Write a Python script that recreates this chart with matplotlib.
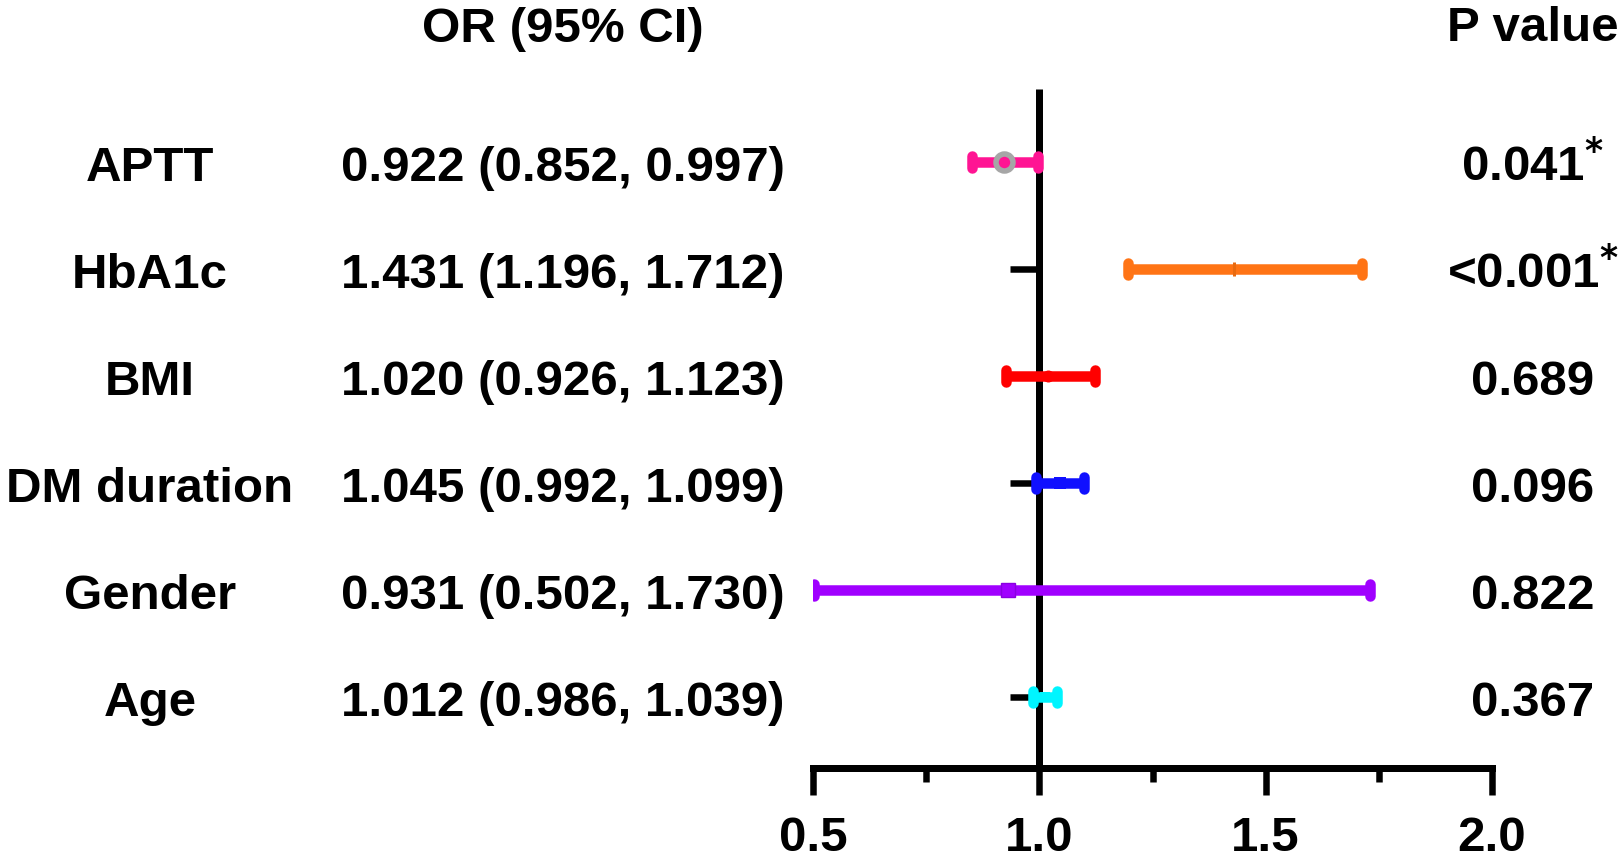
import matplotlib
matplotlib.use("Agg")
import matplotlib.pyplot as plt
from matplotlib.transforms import blended_transform_factory, offset_copy

labels = ['APTT', 'HbA1c', 'BMI', 'DM duration', 'Gender', 'Age']
or_vals = [0.922, 1.431, 1.020, 1.045, 0.931, 1.012]
ci_low = [0.852, 1.196, 0.926, 0.992, 0.502, 0.986]
ci_high = [0.997, 1.712, 1.123, 1.099, 1.730, 1.039]
p_values = ['0.041', '<0.001', '0.689', '0.096', '0.822', '0.367']
significant = [True, True, False, False, False, False]
colors = ['#FF1493', '#FF7415', '#FF0000', '#1010FF', '#A000FF', '#00F5FF']
xticks = [0.5, 1.0, 1.5, 2.0]
xtick_labels = ['0.5', '1.0', '1.5', '2.0']
minor_ticks = [0.75, 1.25, 1.75]

W, H = 1624, 859
DPI = 100
PX = 72.0 / DPI  # points per pixel

plt.rcParams['font.family'] = ['Liberation Sans', 'DejaVu Sans']
plt.rcParams['font.weight'] = 'bold'
FS = 35.5

fig = plt.figure(figsize=(W / DPI, H / DPI), dpi=DPI)
ax = fig.add_axes([813 / W, 1 - 767.7 / H, (1492 - 813) / W, (767.7 - 89) / H])

n = len(labels)
ypos = [n - i for i in range(n)]  # APTT at top

lw_bar = 10.5 * PX
cap_half = 0.056
for i in range(n):
    y = ypos[i]
    c = colors[i]
    ax.plot([ci_low[i], ci_high[i]], [y, y], color=c, lw=lw_bar, solid_capstyle='butt', zorder=3)
    for xv in (ci_low[i], ci_high[i]):
        ax.plot([xv, xv], [y - cap_half, y + cap_half], color=c, lw=lw_bar,
                solid_capstyle='round', zorder=3)

# markers
ax.plot(or_vals[0], ypos[0], 'o', ms=17 * PX, mfc=colors[0], mec='#A6A6A6', mew=5.5 * PX, zorder=5)
ax.plot(or_vals[1], ypos[1], '|', ms=14 * PX, mec='#E86A10', mew=3 * PX, zorder=5)
ax.plot(or_vals[2], ypos[2], 'o', ms=12 * PX, mfc=colors[2], mec=colors[2], mew=0, zorder=5)
ax.plot(or_vals[3], ypos[3], 's', ms=12 * PX, mfc=colors[3], mec=colors[3], mew=0, zorder=5)
ax.plot(or_vals[4], ypos[4], 's', ms=14 * PX, mfc=colors[4], mec='#8A00E0', mew=1, zorder=5)
ax.plot(or_vals[5], ypos[5], 's', ms=10 * PX, mfc=colors[5], mec=colors[5], mew=0, zorder=5)

ax.set_xlim(0.5, 2.0)
ax.set_ylim(0.34, 6.68)

for s in ('top', 'right'):
    ax.spines[s].set_visible(False)
ax.spines['left'].set_position(('data', 1.0))
ax.spines['left'].set_linewidth(7 * PX)
ax.spines['bottom'].set_linewidth(7 * PX)
ax.spines['bottom'].set_bounds(0.5, 2.0)
ax.spines['left'].set_capstyle('butt')
ax.spines['bottom'].set_capstyle('projecting')

ax.set_yticks(ypos)
ax.set_yticklabels([])
ax.tick_params(axis='y', which='major', direction='out', length=29 * PX, width=6.5 * PX)

ax.set_xticks(xticks)
ax.set_xticklabels(xtick_labels)
ax.set_xticks(minor_ticks, minor=True)
ax.tick_params(axis='x', which='major', direction='out', length=27 * PX, width=6.5 * PX,
               labelsize=FS, pad=15.5)
ax.tick_params(axis='x', which='minor', direction='out', length=14 * PX, width=6.5 * PX)
for t in ax.get_xticklabels():
    t.set_fontweight('bold')
ax.patch.set_visible(False)

# text columns tied to row positions
blend = blended_transform_factory(fig.transFigure, ax.transData)
tr = offset_copy(blend, fig=fig, x=0, y=-19, units='dots')

for i in range(n):
    y = ypos[i]
    kw = dict(transform=tr, fontsize=FS, fontweight='bold', va='baseline', ha='center')
    ax.text(150 / W, y, labels[i], **kw)
    ax.text(563 / W, y, f'{or_vals[i]:.3f} ({ci_low[i]:.3f}, {ci_high[i]:.3f})', **kw)
    ptxt = p_values[i]
    if significant[i]:
        ptxt = ptxt + r'$^{*}$'
    ax.text(1533 / W, y, ptxt, **kw)

fig.text(563 / W, 1 - 42 / H, 'OR (95% CI)', ha='center', va='baseline', fontsize=FS, fontweight='bold')
fig.text(1533 / W, 1 - 41 / H, 'P value', ha='center', va='baseline', fontsize=FS, fontweight='bold')

fig.savefig('out.png', dpi=DPI)
